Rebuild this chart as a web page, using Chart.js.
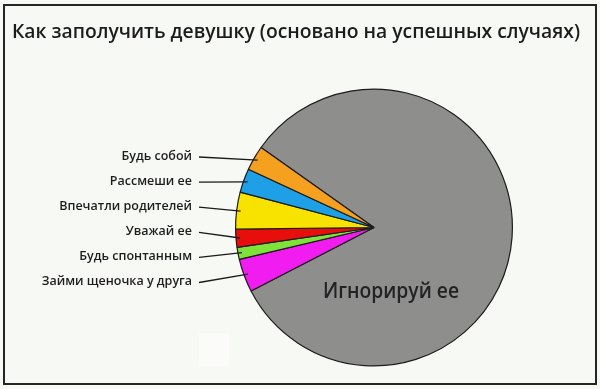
<!DOCTYPE html>
<html>
<head>
<meta charset="utf-8">
<script src="https://cdn.jsdelivr.net/npm/chart.js@4/dist/chart.umd.min.js"></script>
<style>
  html, body { margin: 0; padding: 0; background: #ffffff; }
  #wrap { width: 600px; height: 389px; position: relative; }
</style>
</head>
<body>
<div id="wrap"><canvas id="c" width="600" height="389"></canvas></div>
<script>
// Slices, drawn clockwise starting from the big grey one
const categories = [
  'Игнорируй ее',
  'Займи щеночка у друга',
  'Будь спонтанным',
  'Уважай ее',
  'Впечатли родителей',
  'Рассмеши ее',
  'Будь собой'
];
const shares = [82.6, 3.9, 1.4, 2.1, 4.3, 2.8, 2.9];
const sliceColors = ['#8e8f8d', '#f01cf0', '#7fe23a', '#e80e0c', '#f8e300', '#1e9fe6', '#f5a01e'];
const chartTitle = 'Как заполучить девушку (основано на успешных случаях)';

const FONT = '"Open Sans", "Noto Sans", sans-serif';

// scale a line of text horizontally so it spans exactly `target` pixels
function fitText(ctx, text, x, y, target) {
  const w = ctx.measureText(text).width;
  ctx.save();
  ctx.translate(x, y);
  ctx.scale(target / w, 1);
  ctx.fillText(text, 0, 0);
  ctx.restore();
}

const decorations = {
  id: 'decorations',
  beforeDraw(chart) {
    const ctx = chart.ctx;
    ctx.save();
    ctx.fillStyle = '#f7f9f5';
    ctx.fillRect(0, 0, chart.width, chart.height);
    // pale patch under the pie on the left
    ctx.fillStyle = '#fbfcfa';
    ctx.fillRect(199, 333, 30, 33);
    ctx.restore();
  },
  afterDraw(chart) {
    const ctx = chart.ctx;
    const meta = chart.getDatasetMeta(0);
    ctx.save();

    // frame
    ctx.strokeStyle = '#262626';
    ctx.lineWidth = 2;
    ctx.strokeRect(4, 5, 592, 379);

    // title
    ctx.fillStyle = '#1c1c1c';
    ctx.font = '600 20px ' + FONT;
    ctx.textAlign = 'left';
    ctx.textBaseline = 'alphabetic';
    fitText(ctx, chartTitle, 12, 37.5, 568);

    // side labels with leader lines, top to bottom
    ctx.textBaseline = 'middle';
    ctx.font = '600 12.5px ' + FONT;
    ctx.textAlign = 'right';
    ctx.strokeStyle = '#1a1a1a';
    ctx.lineWidth = 1.3;
    for (let i = categories.length - 1; i >= 1; i--) {
      const row = categories.length - 1 - i;
      const ty = 156 + row * 25.1;
      ctx.fillStyle = '#1e1e1e';
      ctx.fillText(categories[i], 192, ty);
      const arc = meta.data[i];
      const mid = (arc.startAngle + arc.endAngle) / 2;
      const r = arc.outerRadius - 4;
      const ex = arc.x + Math.cos(mid) * r;
      const ey = arc.y + Math.sin(mid) * r;
      ctx.beginPath();
      ctx.moveTo(199, ty + 1);
      ctx.lineTo(ex, ey);
      ctx.stroke();
    }

    // label inside the grey slice
    const big = meta.data[0];
    ctx.font = '600 21px ' + FONT;
    ctx.textAlign = 'left';
    ctx.fillStyle = '#232323';
    fitText(ctx, categories[0], big.x - 51, big.y + 65, 136);

    ctx.restore();
  }
};

function build() {
  new Chart(document.getElementById('c'), {
    type: 'pie',
    data: {
      labels: categories,
      datasets: [{
        data: shares,
        backgroundColor: sliceColors,
        borderColor: '#1c1c1c',
        borderWidth: 1.2
      }]
    },
    options: {
      responsive: false,
      animation: false,
      rotation: -54.7,
      layout: { padding: { left: 235, right: 87, top: 88, bottom: 22 } },
      plugins: {
        legend: { display: false },
        title: { display: false },
        tooltip: { enabled: false }
      }
    },
    plugins: [decorations]
  });
}

Promise.all([
  document.fonts.load('600 20px "Open Sans"', 'Как'),
  document.fonts.load('600 12px "Open Sans"', 'Как')
]).catch(() => {}).then(build);
</script>
</body>
</html>
